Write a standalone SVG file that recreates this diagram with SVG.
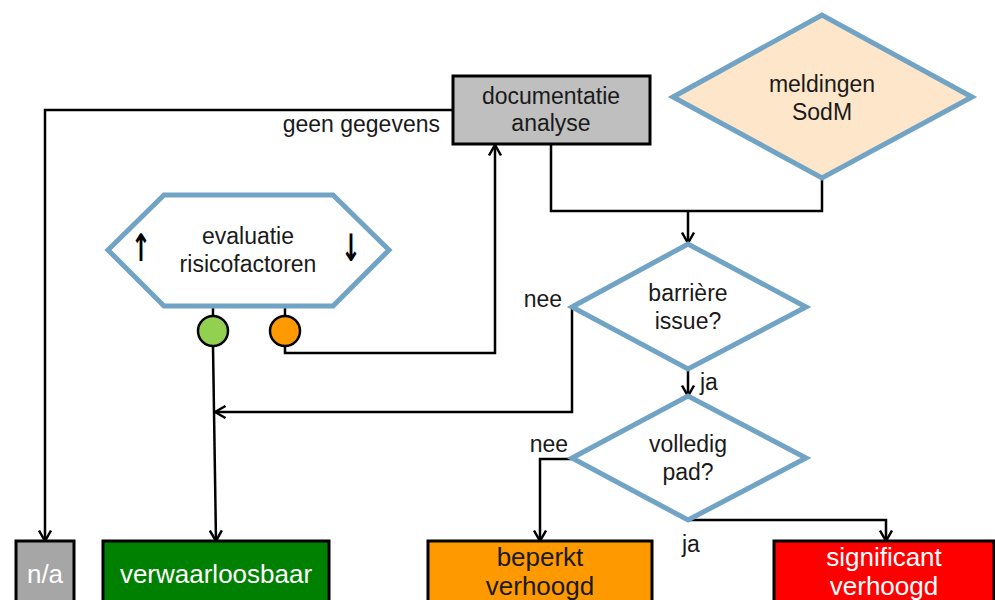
<svg xmlns="http://www.w3.org/2000/svg" width="995" height="600" viewBox="0 0 995 600">
<style>
text{font-family:"Liberation Sans",Arial,sans-serif;font-size:23px;fill:#1a1a1a;text-anchor:middle}
.lbl{font-size:23px}
.big{font-size:26px}
.w{fill:#ffffff}
.ar{font-family:"DejaVu Sans",sans-serif;font-size:28px;fill:#000;font-weight:bold}
.blue{stroke:#71A3C5;stroke-width:5;stroke-linejoin:miter}
.box{stroke:#000;stroke-width:3}
.con{fill:none;stroke:#000;stroke-width:2.5}
</style>
<defs>
<marker id="arr" markerUnits="userSpaceOnUse" viewBox="0 0 14 14" markerWidth="14" markerHeight="14" refX="12.5" refY="7" orient="auto">
<path d="M2,1 L12.5,7 L2,13" fill="none" stroke="#000" stroke-width="2.5"/>
</marker>
</defs>
<rect width="995" height="600" fill="#fff"/>
<g id="connectors">
<path class="con" d="M453,110 H45 V541" marker-end="url(#arr)"/>
<path class="con" d="M551,144 V211 H822 V178"/>
<path class="con" d="M688,211 V243" marker-end="url(#arr)"/>
<path class="con" d="M688,369 V396" marker-end="url(#arr)"/>
<path class="con" d="M572,307 V412 H215" marker-end="url(#arr)"/>
<path class="con" d="M213,306 V316"/>
<path class="con" d="M213,346 L216,541" marker-end="url(#arr)"/>
<path class="con" d="M285,306 V316"/>
<path class="con" d="M285,346 V353 H495 V145" marker-end="url(#arr)"/>
<path class="con" d="M572,459 H540 V541" marker-end="url(#arr)"/>
<path class="con" d="M688,520 H886 V541" marker-end="url(#arr)"/>
<text class="lbl" x="440" y="132" style="text-anchor:end">geen gegevens</text>
<text class="lbl" x="562" y="307" style="text-anchor:end">nee</text>
<text class="lbl" x="700" y="390" style="text-anchor:start">ja</text>
<text class="lbl" x="568" y="452" style="text-anchor:end">nee</text>
<text class="lbl" x="682" y="552" style="text-anchor:start">ja</text>
</g>
<g id="doc-analyse">
<rect class="box" x="453" y="76" width="197" height="68" fill="#BFBFBF"/>
<text x="551" y="104">documentatie</text>
<text x="551" y="131">analyse</text>
</g>
<g id="meldingen">
<polygon class="blue" points="673,97 822,15 972,97 822,178" fill="#FDE6CA"/>
<text x="822" y="92">meldingen</text>
<text x="822" y="120">SodM</text>
</g>
<g id="evaluatie">
<polygon class="blue" points="108,250 164,195 333,195 389,250 333,306 164,306" fill="#fff"/>
<text x="248" y="244">evaluatie</text>
<text x="248" y="272">risicofactoren</text>
<text class="ar" transform="translate(141,261) scale(0.85,1.35)">↑</text>
<text class="ar" transform="translate(351,261) scale(0.85,1.35)">↓</text>
</g>
<g id="green-dot"><circle cx="213" cy="331" r="15" fill="#92D050" stroke="#000" stroke-width="2.5"/></g>
<g id="orange-dot"><circle cx="285" cy="331" r="15" fill="#FF9900" stroke="#000" stroke-width="2.5"/></g>
<g id="barriere">
<polygon class="blue" points="572,307 688,244 806,307 688,369" fill="#fff"/>
<text x="688" y="301">barrière</text>
<text x="688" y="329">issue?</text>
</g>
<g id="volledig">
<polygon class="blue" points="572,458 688,396 806,458 688,520" fill="#fff"/>
<text x="688" y="452">volledig</text>
<text x="688" y="480">pad?</text>
</g>
<g id="na">
<rect class="box" x="16" y="541" width="58" height="70" fill="#A6A6A6"/>
<text class="big w" x="45" y="583">n/a</text>
</g>
<g id="verwaarloosbaar">
<rect class="box" x="103" y="541" width="226" height="70" fill="#008000"/>
<text class="big w" x="216" y="583">verwaarloosbaar</text>
</g>
<g id="beperkt">
<rect class="box" x="428" y="541" width="224" height="70" fill="#FF9900"/>
<text class="big" x="540" y="566">beperkt</text>
<text class="big" x="540" y="595">verhoogd</text>
</g>
<g id="significant">
<rect class="box" x="774" y="541" width="220" height="70" fill="#FF0000"/>
<text class="big w" x="884" y="566">significant</text>
<text class="big w" x="884" y="595">verhoogd</text>
</g>
</svg>
